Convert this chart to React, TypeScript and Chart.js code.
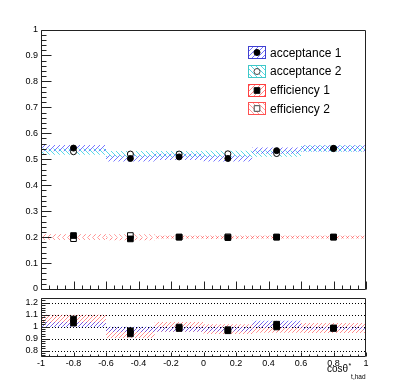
import React, { useEffect, useRef } from "react";
import { Chart, registerables } from "chart.js";
Chart.register(...registerables);

// ---------- data ----------
const binEdges = [-1, -0.6, -0.3, 0, 0.3, 0.6, 1];
const binCenters = [-0.8, -0.45, -0.15, 0.15, 0.45, 0.8];
const acceptance1 = [0.543, 0.503, 0.509, 0.503, 0.533, 0.542];
const acceptance2 = [0.529, 0.52, 0.52, 0.521, 0.522, 0.541];
const acceptanceErr = [0.012, 0.012, 0.012, 0.012, 0.012, 0.012];
const efficiency1 = [0.206, 0.193, 0.2, 0.198, 0.2, 0.2];
const efficiency2 = [0.194, 0.206, 0.2, 0.201, 0.2, 0.2];
const efficiencyErr = [0.005, 0.005, 0.005, 0.005, 0.005, 0.005];
const ratioAcceptance = [1.03, 0.966, 0.985, 0.966, 1.021, 0.99];
const ratioEfficiency = [1.064, 0.94, 0.997, 0.975, 0.998, 0.985];
const ratioAccLow = [0.995, 0.955, 0.96, 0.96, 0.99, 0.975];
const ratioAccHigh = [1.04, 1.0, 1.0, 1.0, 1.05, 1.0];
const ratioEffLow = [1.01, 0.905, 0.956, 0.94, 0.95, 0.948];
const ratioEffHigh = [1.1, 0.99, 1.04, 1.02, 1.03, 1.03];
const mainYTicks = [0, 0.1, 0.2, 0.3, 0.4, 0.5, 0.6, 0.7, 0.8, 0.9, 1];
const ratioYTicks = [0.8, 0.9, 1, 1.1, 1.2];
const xTicks = [-1, -0.8, -0.6, -0.4, -0.2, 0, 0.2, 0.4, 0.6, 0.8, 1];
const legendLabels = ["acceptance 1", "acceptance 2", "efficiency 1", "efficiency 2"];
const xTitle = "cosθ";
const xTitleSup = "*";
const xTitleSub = "t,had";

const FONT = '"Liberation Sans", Arial, Helvetica, sans-serif';
const fmt = (v: number) => String(Math.round(v * 10) / 10);

function hatch(color: string, dir: number, s = 5): CanvasPattern {
  const c = document.createElement("canvas");
  c.width = s;
  c.height = s;
  const g = c.getContext("2d")!;
  g.strokeStyle = color;
  g.lineWidth = 1;
  for (let k = -1; k <= 1; k++) {
    g.beginPath();
    if (dir === 1) {
      g.moveTo(k * s, s);
      g.lineTo(k * s + s, 0);
    } else {
      g.moveTo(k * s, 0);
      g.lineTo(k * s + s, s);
    }
    g.stroke();
  }
  return g.createPattern(c, "repeat")!;
}

const stepData = (vals: number[]) =>
  binEdges.map((x, i) => ({ x, y: vals[Math.min(i, vals.length - 1)] }));

function bandDatasets(lo: number[], hi: number[], pattern: CanvasPattern) {
  return [
    {
      type: "line" as const,
      data: stepData(hi),
      stepped: true,
      fill: "+1",
      backgroundColor: pattern,
      borderColor: "rgba(0,0,0,0)",
      borderWidth: 0,
      pointRadius: 0,
      order: 2,
    },
    {
      type: "line" as const,
      data: stepData(lo),
      stepped: true,
      fill: false,
      borderColor: "rgba(0,0,0,0)",
      borderWidth: 0,
      pointRadius: 0,
      order: 2,
    },
  ];
}

function markerDataset(vals: number[], style: string, filled: boolean, radius: number) {
  return {
    type: "line" as const,
    data: binCenters.map((x, i) => ({ x, y: vals[i] })),
    showLine: false,
    pointStyle: style,
    pointRadius: radius,
    pointBackgroundColor: filled ? "#000" : "#fff",
    pointBorderColor: "#000",
    pointBorderWidth: 1,
    order: 0,
  };
}

function drawMarker(ctx: CanvasRenderingContext2D, x: number, y: number, style: string, filled: boolean) {
  ctx.save();
  ctx.beginPath();
  if (style === "circle") ctx.arc(x, y, 3, 0, Math.PI * 2);
  else ctx.rect(x - 2.8, y - 2.8, 5.6, 5.6);
  ctx.fillStyle = filled ? "#000" : "#fff";
  ctx.fill();
  ctx.strokeStyle = filled ? "#000" : "#444";
  ctx.lineWidth = 1;
  ctx.stroke();
  ctx.restore();
}

const zeroPad = (s: any) => {
  s.paddingTop = 0;
  s.paddingBottom = 0;
  s.paddingLeft = 0;
  s.paddingRight = 0;
};

export default function App() {
  const mainRef = useRef<HTMLCanvasElement>(null);
  const ratioRef = useRef<HTMLCanvasElement>(null);

  useEffect(() => {
    const pAcc1 = hatch("rgba(60,60,255,0.7)", 1);
    const pAcc2 = hatch("rgba(20,200,220,0.7)", -1);
    const pEff1 = hatch("rgba(255,60,60,0.6)", 1);
    const pEff2 = hatch("rgba(255,90,90,0.6)", -1);
    const pRAcc = hatch("rgba(70,70,255,0.7)", 1, 4);
    const pREff = hatch("rgba(255,70,70,0.6)", 1, 4);

    const legendItems = [
      { label: legendLabels[0], pat: pAcc1, border: "#4040d0", style: "circle", filled: true },
      { label: legendLabels[1], pat: pAcc2, border: "#40c8c8", style: "circle", filled: false },
      { label: legendLabels[2], pat: pEff1, border: "#ff4040", style: "rect", filled: true },
      { label: legendLabels[3], pat: pEff2, border: "#ff5050", style: "rect", filled: false },
    ];

    const mainPlugin = {
      id: "rootMain",
      afterDraw(chart: any) {
        const { ctx, chartArea: a, scales } = chart;
        const x = scales.x;
        const y = scales.y;
        ctx.save();
        ctx.strokeStyle = "#222";
        ctx.lineWidth = 1;
        const L = Math.round(a.left) + 0.5;
        const R = Math.round(a.right) - 0.5;
        const T = Math.round(a.top) + 0.5;
        const B = Math.round(a.bottom) + 0.5;
        ctx.beginPath();
        ctx.moveTo(L, T);
        ctx.lineTo(R, T);
        ctx.lineTo(R, B);
        ctx.lineTo(L, B);
        ctx.closePath();
        ctx.stroke();
        ctx.beginPath();
        for (let i = 0; i <= 50; i++) {
          const yy = Math.round(y.getPixelForValue(i / 50)) + 0.5;
          const len = i % 5 === 0 ? 10 : 5;
          ctx.moveTo(L, yy);
          ctx.lineTo(L + len, yy);
        }
        for (let i = 0; i <= 40; i++) {
          const xx = Math.round(x.getPixelForValue(-1 + i / 20)) + 0.5;
          const len = i % 4 === 0 ? 8 : 4;
          ctx.moveTo(xx, B);
          ctx.lineTo(xx, B - len);
        }
        ctx.stroke();

        // legend
        const rows = [52.7, 71.3, 90, 108.7];
        legendItems.forEach((it, i) => {
          const cy = rows[i];
          const bx = 248, bw = 18, bh = 13;
          const by = Math.round(cy - bh / 2);
          ctx.fillStyle = it.pat;
          ctx.fillRect(bx, by, bw, bh);
          ctx.strokeStyle = it.border;
          ctx.lineWidth = 1;
          ctx.strokeRect(bx + 0.5, by + 0.5, bw - 1, bh - 1);
          drawMarker(ctx, bx + bw / 2, by + bh / 2, it.style, it.filled);
          ctx.fillStyle = "#000";
          ctx.font = `12px ${FONT}`;
          ctx.textBaseline = "middle";
          ctx.textAlign = "left";
          ctx.fillText(it.label, 270, cy + 0.5);
        });
        ctx.restore();
      },
    };

    const ratioPlugin = {
      id: "rootRatio",
      beforeDatasetsDraw(chart: any) {
        const { ctx, chartArea: a, scales } = chart;
        ctx.save();
        ctx.strokeStyle = "#000";
        ctx.lineWidth = 1;
        ctx.setLineDash([1, 2]);
        ctx.beginPath();
        ratioYTicks.forEach((v) => {
          const yy = Math.round(scales.y.getPixelForValue(v)) + 0.5;
          ctx.moveTo(a.left + 2, yy);
          ctx.lineTo(a.right, yy);
        });
        ctx.stroke();
        ctx.restore();
      },
      afterDraw(chart: any) {
        const { ctx, chartArea: a, scales } = chart;
        const x = scales.x;
        const y = scales.y;
        ctx.save();
        ctx.strokeStyle = "#222";
        ctx.lineWidth = 1;
        const L = Math.round(a.left) + 0.5;
        const R = Math.round(a.right) - 0.5;
        const T = Math.round(a.top) + 0.5;
        const B = Math.round(a.bottom) + 0.5;
        ctx.beginPath();
        ctx.moveTo(L, T);
        ctx.lineTo(R, T);
        ctx.lineTo(R, B);
        ctx.lineTo(L, B);
        ctx.closePath();
        ctx.stroke();
        ctx.beginPath();
        for (let i = 38; i <= 62; i++) {
          const v = i / 50;
          if (v < y.min || v > y.max) continue;
          const yy = Math.round(y.getPixelForValue(v)) + 0.5;
          const len = i % 5 === 0 ? 8 : 4;
          ctx.moveTo(L, yy);
          ctx.lineTo(L + len, yy);
        }
        for (let i = 0; i <= 40; i++) {
          const xx = Math.round(x.getPixelForValue(-1 + i / 20)) + 0.5;
          const len = i % 4 === 0 ? 4 : 2;
          ctx.moveTo(xx, B);
          ctx.lineTo(xx, B - len);
        }
        ctx.stroke();

        // axis title
        ctx.fillStyle = "#000";
        ctx.textBaseline = "alphabetic";
        ctx.textAlign = "left";
        ctx.font = `10px ${FONT}`;
        const tx = 327;
        const ty = a.bottom + 16;
        ctx.fillText(xTitle, tx, ty);
        const w = ctx.measureText(xTitle).width;
        ctx.font = `7px ${FONT}`;
        ctx.fillText(xTitleSup, tx + w + 0.5, ty - 4);
        ctx.font = `6.5px ${FONT}`;
        ctx.fillText(xTitleSub, tx + w + 3, ty + 7);
        ctx.restore();
      },
    };

    const tickFont = { family: FONT, size: 9 };

    const mainChart = new Chart(mainRef.current!, {
      type: "line",
      data: {
        datasets: [
          markerDataset(acceptance1, "circle", true, 3),
          markerDataset(acceptance2, "circle", false, 3),
          markerDataset(efficiency1, "rect", true, 4),
          markerDataset(efficiency2, "rect", false, 4),
          ...bandDatasets(
            acceptance1.map((v, i) => v - acceptanceErr[i]),
            acceptance1.map((v, i) => v + acceptanceErr[i]),
            pAcc1
          ),
          ...bandDatasets(
            acceptance2.map((v, i) => v - acceptanceErr[i]),
            acceptance2.map((v, i) => v + acceptanceErr[i]),
            pAcc2
          ),
          ...bandDatasets(
            efficiency1.map((v, i) => v - efficiencyErr[i]),
            efficiency1.map((v, i) => v + efficiencyErr[i]),
            pEff1
          ),
          ...bandDatasets(
            efficiency2.map((v, i) => v - efficiencyErr[i]),
            efficiency2.map((v, i) => v + efficiencyErr[i]),
            pEff2
          ),
        ] as any,
      },
      options: {
        animation: false,
        responsive: false,
        devicePixelRatio: 1,
        layout: { padding: { left: 8, right: 41, top: 29.5, bottom: 1 } },
        plugins: { legend: { display: false }, tooltip: { enabled: false } },
        scales: {
          x: { type: "linear", min: -1, max: 1, display: false },
          y: {
            type: "linear",
            min: 0,
            max: 1,
            grid: { display: false, drawTicks: false },
            border: { display: false },
            ticks: { font: tickFont, color: "#000", padding: 3, callback: (v: any) => fmt(Number(v)) },
            afterBuildTicks: (s: any) => {
              s.ticks = mainYTicks.map((value) => ({ value }));
            },
            afterFit: (s: any) => {
              s.width = 33;
              zeroPad(s);
            },
          },
        },
      } as any,
      plugins: [mainPlugin],
    });

    const ratioChart = new Chart(ratioRef.current!, {
      type: "line",
      data: {
        datasets: [
          markerDataset(ratioAcceptance, "rect", true, 4),
          markerDataset(ratioEfficiency, "rect", true, 4),
          ...bandDatasets(ratioAccLow, ratioAccHigh, pRAcc),
          ...bandDatasets(ratioEffLow, ratioEffHigh, pREff),
        ] as any,
      },
      options: {
        animation: false,
        responsive: false,
        devicePixelRatio: 1,
        layout: { padding: { left: 8, right: 41, top: 1, bottom: 0 } },
        plugins: { legend: { display: false }, tooltip: { enabled: false } },
        scales: {
          x: {
            type: "linear",
            min: -1,
            max: 1,
            grid: { display: false, drawTicks: false },
            border: { display: false },
            ticks: {
              font: tickFont,
              color: "#000",
              padding: 2,
              autoSkip: false,
              maxRotation: 0,
              callback: (v: any) => fmt(Number(v)),
            },
            afterBuildTicks: (s: any) => {
              s.ticks = xTicks.map((value) => ({ value }));
            },
            afterFit: (s: any) => {
              s.height = 35;
              zeroPad(s);
            },
          },
          y: {
            type: "linear",
            min: 0.755,
            max: 1.24,
            grid: { display: false, drawTicks: false },
            border: { display: false },
            ticks: { font: tickFont, color: "#000", padding: 3, callback: (v: any) => fmt(Number(v)) },
            afterBuildTicks: (s: any) => {
              s.ticks = ratioYTicks.map((value) => ({ value }));
            },
            afterFit: (s: any) => {
              s.width = 33;
              zeroPad(s);
            },
          },
        },
      } as any,
      plugins: [ratioPlugin],
    });

    return () => {
      mainChart.destroy();
      ratioChart.destroy();
    };
  }, []);

  return (
    <div style={{ position: "fixed", left: 0, top: 0, width: 407, height: 391, background: "#fff" }}>
      <canvas
        ref={mainRef}
        width={407}
        height={294}
        style={{ position: "absolute", left: 0, top: 0, width: 407, height: 294, display: "block" }}
      />
      <canvas
        ref={ratioRef}
        width={407}
        height={98}
        style={{ position: "absolute", left: 0, top: 293, width: 407, height: 98, display: "block", background: "#fff" }}
      />
    </div>
  );
}
